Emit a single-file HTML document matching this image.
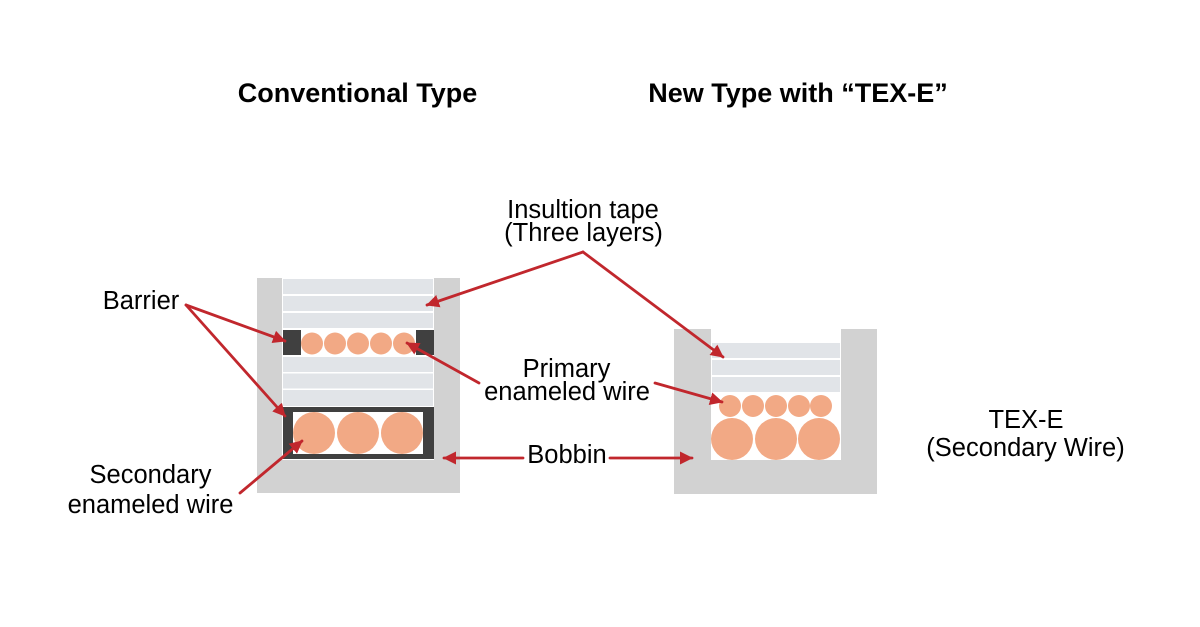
<!DOCTYPE html>
<html>
<head>
<meta charset="utf-8">
<style>
  html, body { margin: 0; padding: 0; background: #ffffff; }
  svg { display: block; }
  text { font-family: "Liberation Sans", Arial, sans-serif; fill: #000000; }
  .t { font-size: 25.5px; }
  .b { font-size: 27px; font-weight: bold; }
</style>
</head>
<body>
<svg width="1200" height="627" viewBox="0 0 1200 627" xmlns="http://www.w3.org/2000/svg">
  <defs>
    <marker id="ah" markerWidth="13" markerHeight="13" refX="12" refY="6.5" orient="auto" markerUnits="userSpaceOnUse">
      <path d="M0,0 L13,6.5 L0,13 z" fill="#c1272d"/>
    </marker>
  </defs>

  <rect x="0" y="0" width="1200" height="627" fill="#ffffff"/>

  <!-- Titles -->
  <text class="b" x="357.5" y="102" text-anchor="middle">Conventional Type</text>
  <text class="b" x="798" y="102" text-anchor="middle">New Type with “TEX-E”</text>

  <!-- ===== Left (Conventional) ===== -->
  <rect x="257" y="278" width="203" height="215" fill="#d2d2d2"/>
  <rect x="282" y="278" width="152" height="182" fill="#ffffff"/>
  <!-- tape rows -->
  <rect x="283" y="279" width="150" height="15" fill="#e1e4e8"/>
  <rect x="283" y="296" width="150" height="15" fill="#e1e4e8"/>
  <rect x="283" y="313" width="150" height="15" fill="#e1e4e8"/>
  <!-- barrier row -->
  <rect x="283" y="330" width="18" height="25" fill="#404040"/>
  <rect x="416" y="330" width="18" height="25" fill="#404040"/>
  <circle cx="312" cy="343.5" r="11" fill="#f2a985"/>
  <circle cx="335" cy="343.5" r="11" fill="#f2a985"/>
  <circle cx="358" cy="343.5" r="11" fill="#f2a985"/>
  <circle cx="381" cy="343.5" r="11" fill="#f2a985"/>
  <circle cx="404" cy="343.5" r="11" fill="#f2a985"/>
  <!-- tape rows -->
  <rect x="283" y="357" width="150" height="15" fill="#e1e4e8"/>
  <rect x="283" y="373.5" width="150" height="15" fill="#e1e4e8"/>
  <rect x="283" y="390" width="150" height="16" fill="#e1e4e8"/>
  <!-- secondary box -->
  <rect x="283" y="407" width="151" height="52" fill="#404040"/>
  <rect x="293" y="412" width="130" height="42" fill="#ffffff"/>
  <circle cx="314" cy="433" r="21" fill="#f2a985"/>
  <circle cx="358" cy="433" r="21" fill="#f2a985"/>
  <circle cx="402" cy="433" r="21" fill="#f2a985"/>

  <!-- ===== Right (New Type) ===== -->
  <rect x="674" y="329" width="203" height="165" fill="#d2d2d2"/>
  <rect x="711" y="329" width="130" height="131" fill="#ffffff"/>
  <rect x="712" y="343" width="128" height="15" fill="#e1e4e8"/>
  <rect x="712" y="360" width="128" height="15" fill="#e1e4e8"/>
  <rect x="712" y="377" width="128" height="15" fill="#e1e4e8"/>
  <circle cx="730" cy="406" r="11" fill="#f2a985"/>
  <circle cx="753" cy="406" r="11" fill="#f2a985"/>
  <circle cx="776" cy="406" r="11" fill="#f2a985"/>
  <circle cx="799" cy="406" r="11" fill="#f2a985"/>
  <circle cx="821" cy="406" r="11" fill="#f2a985"/>
  <circle cx="732" cy="439" r="21" fill="#f2a985"/>
  <circle cx="776" cy="439" r="21" fill="#f2a985"/>
  <circle cx="819" cy="439" r="21" fill="#f2a985"/>

  <!-- ===== Arrows ===== -->
  <g stroke="#c1272d" stroke-width="2.8" fill="none" stroke-linecap="round">
    <line x1="186" y1="305" x2="285" y2="341" marker-end="url(#ah)"/>
    <line x1="186" y1="305" x2="285" y2="416" marker-end="url(#ah)"/>
    <line x1="583" y1="252" x2="427" y2="305" marker-end="url(#ah)"/>
    <line x1="583" y1="252" x2="723" y2="357" marker-end="url(#ah)"/>
    <line x1="479" y1="383" x2="407" y2="343" marker-end="url(#ah)"/>
    <line x1="655" y1="383" x2="722" y2="402" marker-end="url(#ah)"/>
    <line x1="240" y1="493" x2="302" y2="441" marker-end="url(#ah)"/>
    <line x1="523" y1="458" x2="444" y2="458" marker-end="url(#ah)"/>
    <line x1="610" y1="458" x2="692" y2="458" marker-end="url(#ah)"/>
  </g>

  <!-- ===== Labels ===== -->
  <text class="t" x="583" y="218" text-anchor="middle">Insultion tape</text>
  <text class="t" x="583.5" y="241" text-anchor="middle">(Three layers)</text>

  <text class="t" x="141" y="309" text-anchor="middle">Barrier</text>

  <text class="t" x="566.5" y="377" text-anchor="middle">Primary</text>
  <text class="t" x="567" y="400" text-anchor="middle">enameled wire</text>

  <text class="t" x="567" y="463" text-anchor="middle">Bobbin</text>

  <text class="t" x="150.5" y="483" text-anchor="middle">Secondary</text>
  <text class="t" x="150.5" y="513" text-anchor="middle">enameled wire</text>

  <text class="t" x="1026" y="428" text-anchor="middle">TEX-E</text>
  <text class="t" x="1025.5" y="456" text-anchor="middle">(Secondary Wire)</text>
</svg>
</body>
</html>
